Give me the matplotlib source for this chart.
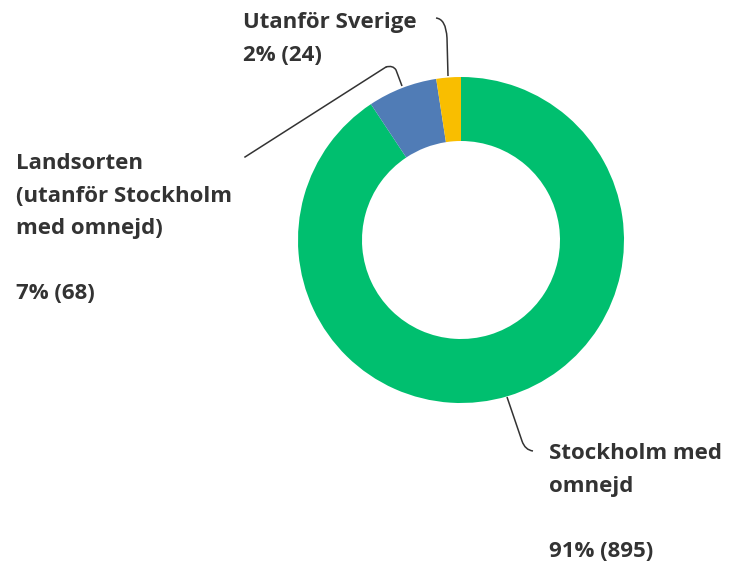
import matplotlib
matplotlib.use("Agg")
import matplotlib.pyplot as plt
from matplotlib.path import Path
from matplotlib.patches import PathPatch

categories = ["Stockholm med omnejd", "Landsorten (utanför Stockholm med omnejd)", "Utanför Sverige"]
counts = [895, 68, 24]
percents = ["91%", "7%", "2%"]
colors = ["#00BF6F", "#507CB6", "#F9BE00"]

W, H = 729, 562
fig = plt.figure(figsize=(W / 100, H / 100), dpi=100)
ax = fig.add_axes([0, 0, 1, 1])

# donut, centre/radius in pixel units (y measured from bottom)
cx, cy, r = 461, H - 240, 163
ax.pie(counts, colors=colors, startangle=90, counterclock=False,
       radius=r, center=(cx, cy), frame=True,
       wedgeprops=dict(width=64, linewidth=0))
ax.set_xlim(0, W)
ax.set_ylim(0, H)
ax.set_aspect("equal")
ax.axis("off")


def leader(pts):
    # pts in image pixels: M, L, control, end
    (x0, y0), (x1, y1), (x2, y2), (x3, y3) = pts
    verts = [(x0, H - y0), (x1, H - y1), (x2, H - y2), (x3, H - y3)]
    codes = [Path.MOVETO, Path.LINETO, Path.CURVE3, Path.CURVE3]
    ax.add_patch(PathPatch(Path(verts, codes), fill=False, ec="#333333", lw=1.1))


leader([(448, 76), (447, 38), (446, 19), (436, 18)])
leader([(402, 86), (396, 70), (393, 65), (386, 67)])
ax.plot([386, 245], [H - 67, H - 157], color="#333333", lw=1.1)
leader([(507, 397), (522, 441), (525, 450), (533, 451)])

txt = dict(fontsize=16, fontweight="bold", color="#333333",
           family=["Open Sans", "DejaVu Sans"], va="top", ha="left", linespacing=1.72)
ax.text(243, H - 12, f"Utanför Sverige\n{percents[2]} ({counts[2]})", **txt)
ax.text(16, H - 153, f"Landsorten\n(utanför Stockholm\nmed omnejd)\n\n{percents[1]} ({counts[1]})", **txt)
ax.text(549, H - 443, f"Stockholm med\nomnejd\n\n{percents[0]} ({counts[0]})", **txt)

fig.savefig("out.png", dpi=100)
